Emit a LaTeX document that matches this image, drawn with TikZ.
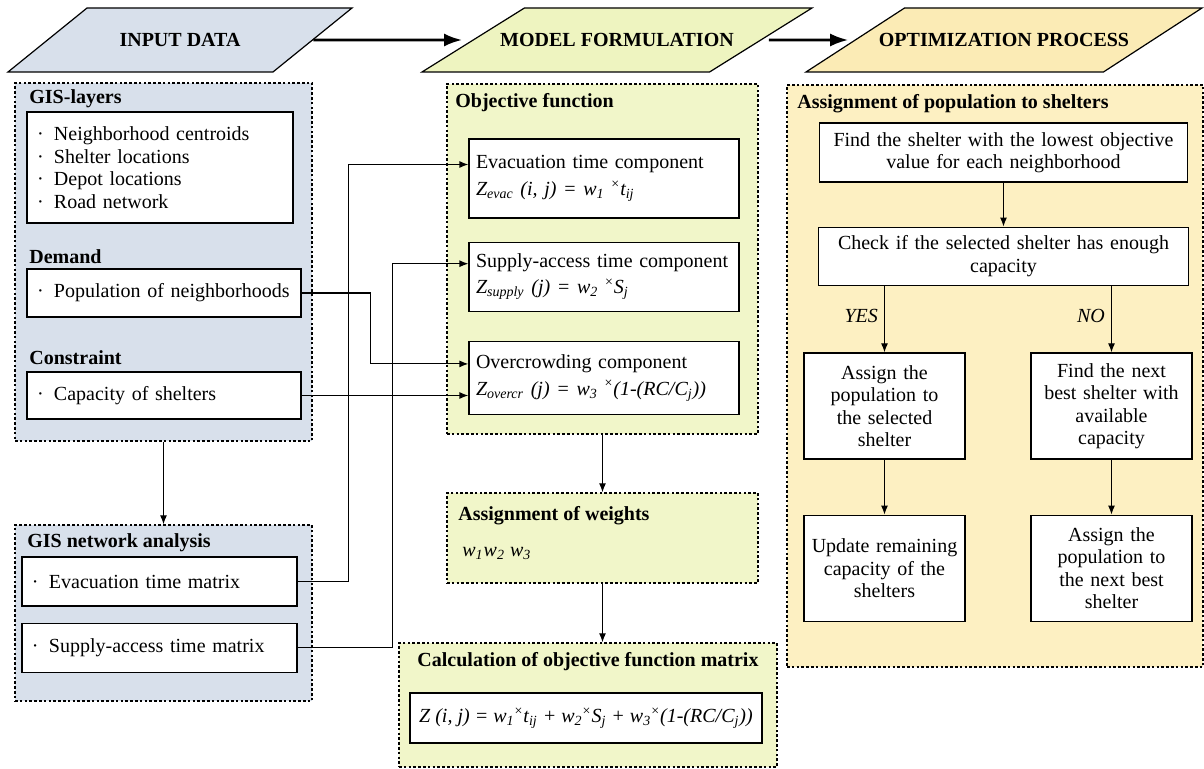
\documentclass[tikz,border=0pt]{standalone}
\usepackage{fontspec}
\setmainfont{Liberation Serif}
\usetikzlibrary{arrows.meta,calc,fit,positioning,shapes.geometric}
\definecolor{inputSoft}{HTML}{D8E0EB}
\definecolor{modelSoft}{HTML}{F1F6C9}
\definecolor{modelHead}{HTML}{EEF4C0}
\definecolor{optSoft}{HTML}{FDF0C2}
\definecolor{optHead}{HTML}{FBEBB5}
\newcommand{\dotitem}{\makebox[8.5pt][l]{\textperiodcentered}}
\newcommand{\tms}{\textsuperscript{\textup{×}}}
\tikzset{
  frame/.style={draw=black,line width=0.6pt,fill=white},
  listbox/.style={frame,align=left,inner xsep=5pt,text width=#1},
  compbox/.style={frame,align=left,inner xsep=3.5pt,text width=128pt,minimum height=#1},
  stepbox/.style={frame,align=center,inner xsep=2pt,text width=#1},
  panel/.style={draw=black,line width=0.7pt,dash pattern=on 1.3pt off 1.1pt,inner sep=0pt},
  headbox/.style={trapezium,trapezium stretches body,draw=black,line width=0.6pt,text height=7pt,text depth=0pt,inner ysep=12.5pt,inner xsep=-14pt,font=\bfseries\fontsize{10}{12}\selectfont},
  ptitle/.style={anchor=west,inner sep=0pt,font=\bfseries\fontsize{10}{12}\selectfont},
  arrow/.style={-{Latex[length=4.5pt,width=3.5pt]},line width=0.6pt},
  bigarrow/.style={-{Latex[length=9pt,width=6.5pt]},line width=1.3pt}
}

\begin{document}
\begin{tikzpicture}[x=0.5pt,y=-0.5pt,font=\fontsize{10}{11.25}\selectfont]
  \useasboundingbox (0,0) rectangle (1204,769);

  \node[headbox,fill=inputSoft,minimum width=172pt,trapezium left angle=39,trapezium right angle=141] (inhead) at (180,40) {INPUT DATA};
  \node[headbox,fill=modelHead,minimum width=195pt,trapezium left angle=32,trapezium right angle=148] (modhead) at (617,40) {MODEL FORMULATION};
  \node[headbox,fill=optHead,minimum width=198pt,trapezium left angle=33,trapezium right angle=147] (opthead) at (1004,40) {OPTIMIZATION PROCESS};

  \node[panel,fill=inputSoft,fit={(15,83) (312,441)}] (inpanel) {};
  \node[panel,fill=inputSoft,fit={(15,525) (312,701)}] (netpanel) {};
  \node[panel,fill=modelSoft,fit={(447,84) (758,434)}] (objpanel) {};
  \node[panel,fill=modelSoft,fit={(447,493) (758,583)}] (wpanel) {};
  \node[panel,fill=modelSoft,fit={(399,643) (777,767)}] (calcpanel) {};
  \node[panel,fill=optSoft,fit={(787,85) (1203,667)}] (optpanel) {};

  \node[ptitle] (lyrT) at (29,99) {GIS-layers};
  \node[ptitle] (demT) at (29,257) {Demand};
  \node[ptitle] (conT) at (29,358) {Constraint};
  \node[ptitle] (netT) at (27,543) {GIS network analysis};
  \node[ptitle] (objT) at (455,103) {Objective function};
  \node[ptitle] (wT) at (458,516) {Assignment of weights};
  \node[ptitle,anchor=center] (calcT) at (588,662) {Calculation of objective function matrix};
  \node[ptitle] (asgT) at (797,104) {Assignment of population to shelters};

  \node[listbox=123pt,minimum height=55.5pt] (layers) at (160,167.5) {\dotitem Neighborhood centroids\\ \dotitem Shelter locations\\ \dotitem Depot locations\\ \dotitem Road network};
  \node[listbox=127pt,minimum height=24pt] (pop) at (164,293) {\dotitem Population of neighborhoods};
  \node[listbox=127pt,minimum height=23.5pt] (cap) at (164,395.5) {\dotitem Capacity of shelters};
  \node[listbox=127.5pt,minimum height=24.5pt] (evm) at (159.5,581.5) {\dotitem Evacuation time matrix};
  \node[listbox=127.5pt,minimum height=24.5pt,below=8pt of evm] (sam) {\dotitem Supply-access time matrix};

  \node[compbox=39.5pt] (evac) at (604,178.5) {Evacuation time component\\[2pt] \textit{Z\textsubscript{evac} (i, j) = w\textsubscript{1} \tms t\textsubscript{ij}}};
  \node[compbox=34.5pt,below=11.5pt of evac] (supply) {Supply-access time component\\[2pt] \textit{Z\textsubscript{supply} (j) = w\textsubscript{2} \tms S\textsubscript{j}}};
  \node[compbox=36.5pt,below=14.5pt of supply] (overc) {Overcrowding component\\[2pt] \textit{Z\textsubscript{overcr} (j) = w\textsubscript{3} \tms (1-(RC/C\textsubscript{j}))}};
  \node[anchor=west,inner sep=0pt] (wts) at (462,553) {\textit{w\textsubscript{1}w\textsubscript{2} w\textsubscript{3}}};
  \node[frame,minimum width=176pt,minimum height=25pt,inner sep=1pt] (zmat) at (586,718) {\textit{Z (i, j) = w\textsubscript{1}\tms t\textsubscript{ij} + w\textsubscript{2}\tms S\textsubscript{j} + w\textsubscript{3}\tms (1-(RC/C\textsubscript{j}))}};

  \node[stepbox=180pt,minimum height=29.5pt] (find) at (1003.5,152.5) {Find the shelter with the lowest objective\\value for each neighborhood};
  \node[stepbox=181pt,minimum height=29pt,below=22pt of find] (check) {Check if the selected shelter has enough\\capacity};
  \node[stepbox=76.5pt,minimum height=53pt] (yes1) at (884.5,406) {Assign the\\population to\\the selected\\shelter};
  \node[stepbox=76.5pt,minimum height=53pt] (no1) at (1111.5,406) {Find the next\\best shelter with\\available\\capacity};
  \node[stepbox=76.5pt,minimum height=53pt,below=27.5pt of yes1] (yes2) {Update remaining\\capacity of the\\shelters};
  \node[stepbox=76.5pt,minimum height=53pt,below=27.5pt of no1] (no2) {Assign the\\population to\\the next best\\shelter};

  \draw[bigarrow,shorten >=5pt] (inhead) -- (modhead);
  \draw[bigarrow,shorten <=3.5pt,shorten >=3pt] (modhead) -- (opthead);
  \draw[arrow] (inpanel.south) -- (netpanel.north);
  \draw[arrow] (evm.east) -- ++(51,0) |- ($(evac.west)+(0,-14)$);
  \draw[arrow] (sam.east) -- ++(95,0) |- ($(supply.west)+(0,-13)$);
  \draw[arrow] (pop.east) -- ++(69,0) |- ($(overc.west)+(0,-14)$);
  \draw[arrow] (cap.east) -- (cap.east -| overc.west);
  \draw[arrow] (objpanel.south) -- (wpanel.north);
  \draw[arrow] (wpanel.south) -- (wpanel.south |- calcpanel.north);
  \draw[arrow] (find.south) -- (find.south |- check.north);
  \draw[arrow] (check.south -| yes1.north) -- node[left,pos=0.45,inner sep=3pt,font=\itshape] {YES} (yes1.north);
  \draw[arrow] (check.south -| no1.north) -- node[left,pos=0.45,inner sep=3pt,font=\itshape] {NO} (no1.north);
  \draw[arrow] (yes1) -- (yes2);
  \draw[arrow] (no1) -- (no2);
\end{tikzpicture}
\end{document}
